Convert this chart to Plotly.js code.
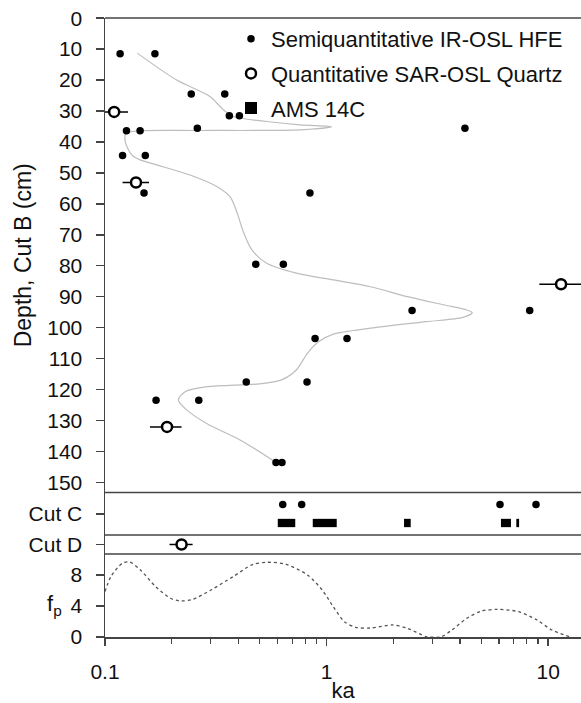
<!DOCTYPE html>
<html>
<head>
<meta charset="utf-8">
<script src="https://cdn.plot.ly/plotly-3.0.1.min.js"></script>
<style>
  html, body { margin: 0; padding: 0; background: #fff; }
  #chart { width: 581px; height: 703px; }
</style>
</head>
<body>
<div id="chart"></div>
<script>
// ---- Data ----
// Semiquantitative IR-OSL HFE ages, Cut B (ka, depth cm)
const semiKa    = [0.117, 0.168, 0.245, 0.347, 0.364, 0.404, 0.125, 0.144, 0.261, 4.21, 0.120, 0.152, 0.150, 0.841, 0.479, 0.638, 2.43, 8.25, 0.887, 1.236, 0.434, 0.816, 0.170, 0.265, 0.591, 0.629];
const semiDepth = [11.5, 11.5, 24.5, 24.5, 31.5, 31.5, 36.4, 36.4, 35.6, 35.6, 44.4, 44.4, 56.5, 56.5, 79.5, 79.5, 94.5, 94.5, 103.5, 103.5, 117.6, 117.6, 123.5, 123.5, 143.6, 143.6];

// Quantitative SAR-OSL quartz ages, Cut B
const quartzKa       = [0.110, 0.138, 11.43, 0.1905];
const quartzDepth    = [30.3, 53.1, 86.0, 132.1];
const quartzErrMinus = [0.018, 0.018, 2.31, 0.031];
const quartzErrPlus  = [0.017, 0.020, 3.27, 0.031];

// Smoothed age-depth profile, Cut B
const profileKa    = [0.1399, 0.2107, 0.2977, 0.3419, 0.3793, 0.5366, 0.7586, 1.054, 0.7586, 0.2684, 0.1439, 0.1244, 0.1235, 0.1320, 0.1439, 0.1711, 0.2419, 0.3192, 0.3665, 0.3929, 0.4208, 0.4602, 0.5366, 0.7313, 1.072, 1.577, 2.315, 3.401, 4.288, 4.54, 4.126, 2.806, 1.577, 1.072, 0.9193, 0.8193, 0.7299, 0.6257, 0.4971, 0.2898, 0.2301, 0.2142, 0.2337, 0.2876, 0.4067, 0.5553, 0.5848];
const profileDepth = [11.3, 20.0, 25.3, 29.6, 31.8, 33.4, 34.5, 35.1, 36.1, 36.3, 36.4, 37.2, 40.0, 44.2, 45.8, 47.4, 50.7, 54.4, 57.7, 62.5, 69.0, 74.9, 79.2, 82.4, 84.6, 86.8, 90.0, 92.7, 94.3, 95.2, 96.7, 98.1, 100.2, 102.1, 104.6, 108.3, 113.7, 116.9, 118.2, 119.1, 120.7, 123.4, 126.6, 131.0, 136.3, 142.3, 143.4];

// Cut C
const cutCSemiKa = [0.634, 0.772, 6.06, 8.81];
const amsStart   = [0.602, 0.866, 2.236, 6.12, 7.18];
const amsEnd     = [0.722, 1.111, 2.396, 6.79, 7.39];

// Cut D
const cutDQuartzKa       = [0.2215];
const cutDQuartzErrMinus = [0.026];
const cutDQuartzErrPlus  = [0.027];

// Probability density f_p
const fpKa    = [0.1, 0.1064, 0.1196, 0.1291, 0.1449, 0.1692, 0.1973, 0.2171, 0.2485, 0.3008, 0.3793, 0.4602, 0.5366, 0.6505, 0.8193, 0.9553, 1.072, 1.203, 1.352, 1.577, 1.985, 2.315, 2.806, 2.916, 3.272, 3.677, 4.288, 5.0, 5.935, 7.345, 8.903, 10.39, 12.6];
const fpValue = [5.85, 7.8, 9.5, 9.68, 8.6, 6.5, 5.0, 4.65, 4.85, 6.06, 7.8, 9.3, 9.63, 9.4, 8.0, 6.06, 3.9, 1.97, 1.25, 1.16, 1.55, 1.12, 0.05, 0.0, 0.0, 0.9, 2.4, 3.35, 3.57, 3.26, 2.19, 0.9, 0.0];

// Tick labels
const panelLabels = { cutC: 'Cut C', cutD: 'Cut D' };
const seriesNames = ['Semiquantitative IR-OSL HFE', 'Quantitative SAR-OSL Quartz', 'AMS 14C'];

// ---- Styling ----
const FONT = 'Liberation Sans, Arial, Helvetica, sans-serif';
const AXIS_COL = '#444';
const ROW_DOT = 1, ROW_BAR = -1; // row positions inside Cut C panel

const dotMarker = { color: '#000', size: 7.5 };
const ringMarker = { color: '#fff', size: 10, line: { color: '#000', width: 2.5 } };

const traces = [
  { // gray profile
    x: profileKa, y: profileDepth, xaxis: 'x', yaxis: 'y',
    mode: 'lines', line: { color: '#bdbdbd', width: 1.2, shape: 'spline', smoothing: 0.8 },
    showlegend: false, hoverinfo: 'skip', legendgroup: 'profile'
  },
  {
    name: seriesNames[0], legendgroup: 'semi',
    x: semiKa, y: semiDepth, xaxis: 'x', yaxis: 'y',
    mode: 'markers', type: 'scatter', marker: dotMarker
  },
  {
    name: seriesNames[1], legendgroup: 'quartz',
    x: quartzKa, y: quartzDepth, xaxis: 'x', yaxis: 'y',
    mode: 'markers', type: 'scatter', marker: ringMarker,
    error_x: { type: 'data', symmetric: false, array: quartzErrPlus, arrayminus: quartzErrMinus,
               color: '#000', thickness: 1.5, width: 0 }
  },
  {
    name: seriesNames[2], legendgroup: 'ams',
    type: 'bar', orientation: 'h',
    base: amsStart, x: amsEnd.map((e, i) => e - amsStart[i]),
    y: amsStart.map(() => ROW_BAR), width: 0.9,
    xaxis: 'x', yaxis: 'y2',
    marker: { color: '#000', line: { width: 0 } }
  },
  {
    name: seriesNames[0], showlegend: false, legendgroup: 'semi',
    x: cutCSemiKa, y: cutCSemiKa.map(() => ROW_DOT), xaxis: 'x', yaxis: 'y2',
    mode: 'markers', type: 'scatter', marker: dotMarker
  },
  {
    name: seriesNames[1], showlegend: false, legendgroup: 'quartz',
    x: cutDQuartzKa, y: cutDQuartzKa.map(() => 0), xaxis: 'x', yaxis: 'y3',
    mode: 'markers', type: 'scatter', marker: ringMarker,
    error_x: { type: 'data', symmetric: false, array: cutDQuartzErrPlus, arrayminus: cutDQuartzErrMinus,
               color: '#000', thickness: 1.5, width: 0 }
  },
  {
    x: fpKa, y: fpValue, xaxis: 'x', yaxis: 'y4', legendgroup: 'fp',
    mode: 'lines', line: { color: '#555', width: 1.3, dash: 'dot', shape: 'spline', smoothing: 0.8 },
    showlegend: false, hoverinfo: 'skip'
  }
];

// domains (fraction of plot height)
const D4 = [0, 0.1341], D3 = [0.1341, 0.1648], D2 = [0.1648, 0.2334], D1 = [0.2334, 1];

const yBase = {
  showgrid: false, zeroline: false, showline: true, linecolor: AXIS_COL, linewidth: 1.5,
  ticks: 'outside', ticklen: 8, tickwidth: 1.5, tickcolor: AXIS_COL, ticklabelstandoff: 9,
  tickfont: { family: FONT, size: 21, color: '#111' }, anchor: 'x', fixedrange: true
};

const layout = {
  width: 581, height: 703,
  margin: { l: 105, r: 0, t: 18, b: 66 },
  paper_bgcolor: '#fff', plot_bgcolor: '#fff',
  font: { family: FONT, color: '#111' },
  barmode: 'overlay',
  xaxis: {
    type: 'log', range: [-1, 1.148], anchor: 'y4',
    showgrid: false, zeroline: false, showline: true, linecolor: AXIS_COL, linewidth: 1.5,
    tickmode: 'linear', tick0: 0, dtick: 1,
    ticks: 'outside', ticklen: 7, tickwidth: 1.5, tickcolor: AXIS_COL, ticklabelstandoff: 8,
    minor: { ticks: 'outside', ticklen: 5, tickwidth: 1.2, tickcolor: AXIS_COL, dtick: 'D1', showgrid: false },
    tickfont: { family: FONT, size: 21, color: '#111' },
    title: { text: 'ka', font: { family: FONT, size: 22, color: '#111' }, standoff: 20 }
  },
  yaxis: Object.assign({}, yBase, {
    domain: D1, range: [153.3, -0.05], tickmode: 'linear', tick0: 0, dtick: 10,
    title: { text: 'Depth, Cut B (cm)', font: { family: FONT, size: 23, color: '#111' }, standoff: 9 }
  }),
  yaxis2: Object.assign({}, yBase, {
    domain: D2, range: [-2.3, 2.3], tickmode: 'array', tickvals: [0], ticktext: [panelLabels.cutC]
  }),
  yaxis3: Object.assign({}, yBase, {
    domain: D3, range: [-1, 1], tickmode: 'array', tickvals: [0], ticktext: [panelLabels.cutD]
  }),
  yaxis4: Object.assign({}, yBase, {
    domain: D4, range: [0, 10.7], tickmode: 'array', tickvals: [0, 4, 8], ticktext: ['0', '4', '8']
  }),
  shapes: [D1[1], D1[0], D2[0], D3[0]].map(y => ({
    type: 'line', xref: 'paper', yref: 'paper', x0: 0, x1: 1, y0: y, y1: y,
    line: { color: AXIS_COL, width: 1.5 }
  })),
  annotations: [{
    xref: 'paper', yref: 'paper', x: -0.086, y: 0.052, xanchor: 'right', yanchor: 'middle',
    text: 'f<sub>p</sub>', showarrow: false, font: { family: FONT, size: 22, color: '#111' }
  }],
  legend: {
    x: 0.2647, y: 1.0, xanchor: 'left', yanchor: 'top',
    bgcolor: 'rgba(0,0,0,0)', borderwidth: 0,
    font: { family: FONT, size: 22, color: '#111' },
    traceorder: 'grouped', tracegroupgap: 3
  },
  showlegend: true
};

Plotly.newPlot('chart', traces, layout, { staticPlot: true, displayModeBar: false });
</script>
</body>
</html>
